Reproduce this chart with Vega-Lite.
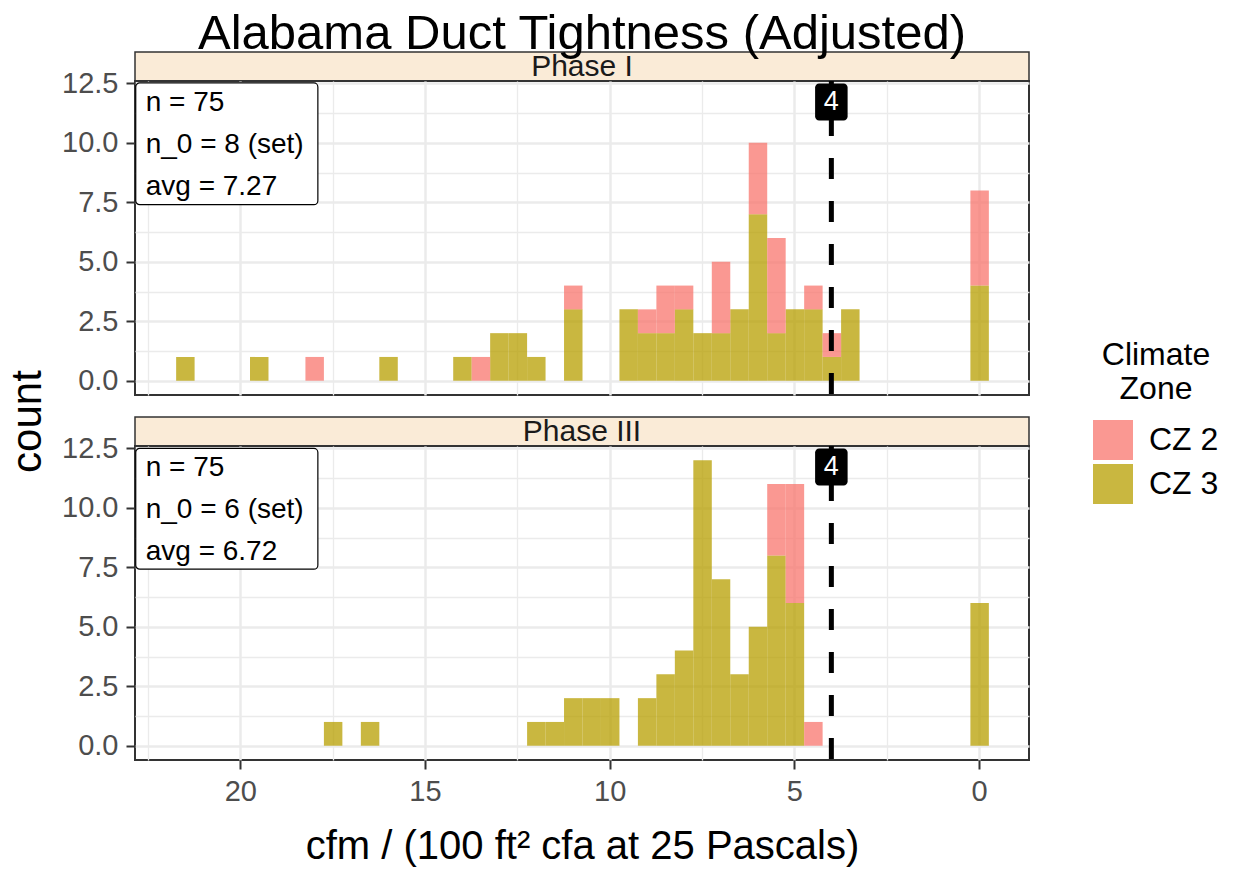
{
  "$schema": "https://vega.github.io/schema/vega-lite/v6.json",
  "padding": {"left": 5, "top": 8, "right": 5, "bottom": 5},
  "config": {
    "font": "Liberation Sans",
    "axis": {"labelFont": "Liberation Sans", "titleFont": "Liberation Sans", "gridColor": "#EBEBEB", "domain": false, "tickColor": "#333333", "tickWidth": 2, "tickSize": 9, "labelColor": "#4D4D4D", "labelFontSize": 29, "labelPadding": 8, "titleFontSize": 40, "titleFontWeight": "normal", "titleColor": "#000000"},
    "legend": {"labelFont": "Liberation Sans", "titleFont": "Liberation Sans", "labelFontSize": 32, "titleFontSize": 32, "titleFontWeight": "normal", "labelColor": "#000000", "titleColor": "#000000"},
    "title": {"font": "Liberation Sans", "fontWeight": "normal", "color": "#000000"}
  },
  "datasets": {
    "bins": [
      {"phase": "Phase I", "zone": "CZ 3", "bin_start": 21.25, "bin_end": 21.75, "count": 1},
      {"phase": "Phase I", "zone": "CZ 3", "bin_start": 19.25, "bin_end": 19.75, "count": 1},
      {"phase": "Phase I", "zone": "CZ 3", "bin_start": 15.75, "bin_end": 16.25, "count": 1},
      {"phase": "Phase I", "zone": "CZ 3", "bin_start": 13.75, "bin_end": 14.25, "count": 1},
      {"phase": "Phase I", "zone": "CZ 3", "bin_start": 12.75, "bin_end": 13.25, "count": 2},
      {"phase": "Phase I", "zone": "CZ 3", "bin_start": 12.25, "bin_end": 12.75, "count": 2},
      {"phase": "Phase I", "zone": "CZ 3", "bin_start": 11.75, "bin_end": 12.25, "count": 1},
      {"phase": "Phase I", "zone": "CZ 3", "bin_start": 10.75, "bin_end": 11.25, "count": 3},
      {"phase": "Phase I", "zone": "CZ 3", "bin_start": 9.25, "bin_end": 9.75, "count": 3},
      {"phase": "Phase I", "zone": "CZ 3", "bin_start": 8.75, "bin_end": 9.25, "count": 2},
      {"phase": "Phase I", "zone": "CZ 3", "bin_start": 8.25, "bin_end": 8.75, "count": 2},
      {"phase": "Phase I", "zone": "CZ 3", "bin_start": 7.75, "bin_end": 8.25, "count": 3},
      {"phase": "Phase I", "zone": "CZ 3", "bin_start": 7.25, "bin_end": 7.75, "count": 2},
      {"phase": "Phase I", "zone": "CZ 3", "bin_start": 6.75, "bin_end": 7.25, "count": 2},
      {"phase": "Phase I", "zone": "CZ 3", "bin_start": 6.25, "bin_end": 6.75, "count": 3},
      {"phase": "Phase I", "zone": "CZ 3", "bin_start": 5.75, "bin_end": 6.25, "count": 7},
      {"phase": "Phase I", "zone": "CZ 3", "bin_start": 5.25, "bin_end": 5.75, "count": 2},
      {"phase": "Phase I", "zone": "CZ 3", "bin_start": 4.75, "bin_end": 5.25, "count": 3},
      {"phase": "Phase I", "zone": "CZ 3", "bin_start": 4.25, "bin_end": 4.75, "count": 3},
      {"phase": "Phase I", "zone": "CZ 3", "bin_start": 3.75, "bin_end": 4.25, "count": 1},
      {"phase": "Phase I", "zone": "CZ 3", "bin_start": 3.25, "bin_end": 3.75, "count": 3},
      {"phase": "Phase I", "zone": "CZ 3", "bin_start": -0.25, "bin_end": 0.25, "count": 4},
      {"phase": "Phase I", "zone": "CZ 2", "bin_start": 17.75, "bin_end": 18.25, "count": 1},
      {"phase": "Phase I", "zone": "CZ 2", "bin_start": 13.25, "bin_end": 13.75, "count": 1},
      {"phase": "Phase I", "zone": "CZ 2", "bin_start": 10.75, "bin_end": 11.25, "count": 1},
      {"phase": "Phase I", "zone": "CZ 2", "bin_start": 8.75, "bin_end": 9.25, "count": 1},
      {"phase": "Phase I", "zone": "CZ 2", "bin_start": 8.25, "bin_end": 8.75, "count": 2},
      {"phase": "Phase I", "zone": "CZ 2", "bin_start": 7.75, "bin_end": 8.25, "count": 1},
      {"phase": "Phase I", "zone": "CZ 2", "bin_start": 6.75, "bin_end": 7.25, "count": 3},
      {"phase": "Phase I", "zone": "CZ 2", "bin_start": 5.75, "bin_end": 6.25, "count": 3},
      {"phase": "Phase I", "zone": "CZ 2", "bin_start": 5.25, "bin_end": 5.75, "count": 4},
      {"phase": "Phase I", "zone": "CZ 2", "bin_start": 4.25, "bin_end": 4.75, "count": 1},
      {"phase": "Phase I", "zone": "CZ 2", "bin_start": 3.75, "bin_end": 4.25, "count": 1},
      {"phase": "Phase I", "zone": "CZ 2", "bin_start": -0.25, "bin_end": 0.25, "count": 4},
      {"phase": "Phase III", "zone": "CZ 3", "bin_start": 17.25, "bin_end": 17.75, "count": 1},
      {"phase": "Phase III", "zone": "CZ 3", "bin_start": 16.25, "bin_end": 16.75, "count": 1},
      {"phase": "Phase III", "zone": "CZ 3", "bin_start": 11.75, "bin_end": 12.25, "count": 1},
      {"phase": "Phase III", "zone": "CZ 3", "bin_start": 11.25, "bin_end": 11.75, "count": 1},
      {"phase": "Phase III", "zone": "CZ 3", "bin_start": 10.75, "bin_end": 11.25, "count": 2},
      {"phase": "Phase III", "zone": "CZ 3", "bin_start": 10.25, "bin_end": 10.75, "count": 2},
      {"phase": "Phase III", "zone": "CZ 3", "bin_start": 9.75, "bin_end": 10.25, "count": 2},
      {"phase": "Phase III", "zone": "CZ 3", "bin_start": 8.75, "bin_end": 9.25, "count": 2},
      {"phase": "Phase III", "zone": "CZ 3", "bin_start": 8.25, "bin_end": 8.75, "count": 3},
      {"phase": "Phase III", "zone": "CZ 3", "bin_start": 7.75, "bin_end": 8.25, "count": 4},
      {"phase": "Phase III", "zone": "CZ 3", "bin_start": 7.25, "bin_end": 7.75, "count": 12},
      {"phase": "Phase III", "zone": "CZ 3", "bin_start": 6.75, "bin_end": 7.25, "count": 7},
      {"phase": "Phase III", "zone": "CZ 3", "bin_start": 6.25, "bin_end": 6.75, "count": 3},
      {"phase": "Phase III", "zone": "CZ 3", "bin_start": 5.75, "bin_end": 6.25, "count": 5},
      {"phase": "Phase III", "zone": "CZ 3", "bin_start": 5.25, "bin_end": 5.75, "count": 8},
      {"phase": "Phase III", "zone": "CZ 3", "bin_start": 4.75, "bin_end": 5.25, "count": 6},
      {"phase": "Phase III", "zone": "CZ 3", "bin_start": -0.25, "bin_end": 0.25, "count": 6},
      {"phase": "Phase III", "zone": "CZ 2", "bin_start": 5.25, "bin_end": 5.75, "count": 3},
      {"phase": "Phase III", "zone": "CZ 2", "bin_start": 4.75, "bin_end": 5.25, "count": 5},
      {"phase": "Phase III", "zone": "CZ 2", "bin_start": 4.25, "bin_end": 4.75, "count": 1}
    ]
  },
  "bounds": "flush",
  "spacing": 0,
  "resolve": {"scale": {"color": "shared"}},
  "vconcat": [
    {
      "width": 894, "height": 29,
      "title": {"text": "Alabama Duct Tightness (Adjusted)", "fontSize": 49, "anchor": "middle", "frame": "group", "baseline": "alphabetic", "offset": -46},
      "view": {"fill": "#FAEBD7", "stroke": "#333333", "strokeWidth": 1.5},
      "data": {"values": [{"phase": "Phase I"}]},
      "mark": {"type": "text", "fontSize": 30, "color": "#1A1A1A", "baseline": "middle"},
      "encoding": {"text": {"field": "phase"}}
    },
    {
      "width": 894, "height": 314,
      "view": {"stroke": "#333333", "strokeWidth": 2},
      "resolve": {"axis": {"x": "independent", "y": "independent"}},
      "layer": [
        {
          "data": {"name": "bins"},
          "transform": [{"filter": "datum.phase === 'Phase I'"}],
          "mark": {"type": "bar", "opacity": 0.75, "binSpacing": 0, "strokeWidth": 0},
          "encoding": {
            "x": {"field": "bin_start", "type": "quantitative", "bin": {"binned": true, "step": 0.5}, "scale": {"domain": [-1.35, 22.85], "reverse": true, "nice": false, "zero": false}, "axis": {"orient": "bottom", "values": [0, 5, 10, 15, 20], "labels": false, "ticks": false, "title": null, "grid": true, "gridWidth": 2.5}},
            "x2": {"field": "bin_end"},
            "y": {"field": "count", "type": "quantitative", "stack": "zero", "scale": {"domain": [-0.6, 12.6], "nice": false, "zero": false}, "axis": {"orient": "left", "values": [0, 2.5, 5, 7.5, 10, 12.5], "format": ".1f", "title": null, "grid": true, "gridWidth": 2.5}},
            "color": {"field": "zone", "type": "nominal", "scale": {"domain": ["CZ 2", "CZ 3"], "range": ["#F8766D", "#B79F00"]}, "legend": {"orient": "none", "legendX": 958, "legendY": 288, "title": ["Climate", "Zone"], "titleAlign": "center", "titleAnchor": "middle", "titlePadding": 14, "symbolType": "square", "symbolSize": 1600, "symbolOpacity": 0.75, "symbolStrokeWidth": 0, "rowPadding": 4, "labelOffset": 16}},
            "order": {"field": "zone", "sort": "descending"}
          }
        },
        {
          "data": {"values": [{"ref": 4}]},
          "mark": {"type": "rule", "color": "#000000", "strokeWidth": 5, "strokeDash": [21, 22], "strokeDashOffset": 9},
          "encoding": {"x": {"field": "ref", "type": "quantitative", "axis": {"orient": "top", "values": [2.5, 7.5, 12.5, 17.5, 22.5], "labels": false, "ticks": false, "domain": false, "title": null, "grid": true, "gridWidth": 1.3}}}
        },
        {
          "data": {"values": [{"ref": 4}]},
          "mark": {"type": "rect", "color": "#000000", "cornerRadius": 4},
          "encoding": {"x": {"datum": 4.44, "axis": null}, "x2": {"datum": 3.56}, "y": {"datum": 12.49, "axis": {"orient": "right", "values": [1.25, 3.75, 6.25, 8.75, 11.25], "labels": false, "ticks": false, "domain": false, "title": null, "grid": true, "gridWidth": 1.3}}, "y2": {"datum": 10.94}}
        },
        {
          "data": {"values": [{"ref": 4, "lab": "4"}]},
          "mark": {"type": "text", "color": "#FFFFFF", "fontSize": 27, "baseline": "middle"},
          "encoding": {"x": {"field": "ref", "type": "quantitative", "axis": null}, "y": {"datum": 11.71, "axis": null}, "text": {"field": "lab"}}
        },
        {
          "data": {"values": [{"phase": "Phase I"}]},
          "mark": {"type": "rect", "fill": "#FFFFFF", "stroke": "#000000", "strokeWidth": 1.2, "cornerRadius": 4},
          "encoding": {"x": {"datum": 22.83, "axis": null}, "x2": {"datum": 17.9}, "y": {"datum": 12.52, "axis": null}, "y2": {"datum": 7.4}}
        },
        {
          "data": {"values": [{"lines": ["n = 75", "n_0 = 8 (set)", "avg = 7.27"]}]},
          "mark": {"type": "text", "align": "left", "baseline": "alphabetic", "fontSize": 28, "lineHeight": 41.7, "color": "#000000"},
          "encoding": {"x": {"datum": 22.56, "axis": null}, "y": {"datum": 11.33, "axis": null}, "text": {"field": "lines"}}
        }
      ]
    },
    {
      "width": 894, "height": 22,
      "view": {"stroke": null},
      "data": {"values": [{}]},
      "mark": {"type": "text"},
      "encoding": {"text": {"value": ""}}
    },
    {
      "width": 894, "height": 29,
      "view": {"fill": "#FAEBD7", "stroke": "#333333", "strokeWidth": 1.5},
      "data": {"values": [{"phase": "Phase III"}]},
      "mark": {"type": "text", "fontSize": 30, "color": "#1A1A1A", "baseline": "middle"},
      "encoding": {"text": {"field": "phase"}}
    },
    {
      "width": 894, "height": 314,
      "view": {"stroke": "#333333", "strokeWidth": 2},
      "resolve": {"axis": {"x": "independent", "y": "independent"}},
      "layer": [
        {
          "data": {"name": "bins"},
          "transform": [{"filter": "datum.phase === 'Phase III'"}],
          "mark": {"type": "bar", "opacity": 0.75, "binSpacing": 0, "strokeWidth": 0},
          "encoding": {
            "x": {"field": "bin_start", "type": "quantitative", "bin": {"binned": true, "step": 0.5}, "scale": {"domain": [-1.35, 22.85], "reverse": true, "nice": false, "zero": false}, "axis": {"orient": "bottom", "values": [0, 5, 10, 15, 20], "format": "d", "title": "cfm / (100 ft² cfa at 25 Pascals)", "titlePadding": 20, "grid": true, "gridWidth": 2.5}},
            "x2": {"field": "bin_end"},
            "y": {"field": "count", "type": "quantitative", "stack": "zero", "scale": {"domain": [-0.6, 12.6], "nice": false, "zero": false}, "axis": {"orient": "left", "values": [0, 2.5, 5, 7.5, 10, 12.5], "format": ".1f", "title": "count", "titleFontSize": 42, "titleY": -25, "titlePadding": 12, "grid": true, "gridWidth": 2.5}},
            "color": {"field": "zone", "type": "nominal", "scale": {"domain": ["CZ 2", "CZ 3"], "range": ["#F8766D", "#B79F00"]}, "legend": {"orient": "none", "legendX": 958, "legendY": 288, "title": ["Climate", "Zone"], "titleAlign": "center", "titleAnchor": "middle", "titlePadding": 14, "symbolType": "square", "symbolSize": 1600, "symbolOpacity": 0.75, "symbolStrokeWidth": 0, "rowPadding": 4, "labelOffset": 16}},
            "order": {"field": "zone", "sort": "descending"}
          }
        },
        {
          "data": {"values": [{"ref": 4}]},
          "mark": {"type": "rule", "color": "#000000", "strokeWidth": 5, "strokeDash": [21, 22], "strokeDashOffset": 9},
          "encoding": {"x": {"field": "ref", "type": "quantitative", "axis": {"orient": "top", "values": [2.5, 7.5, 12.5, 17.5, 22.5], "labels": false, "ticks": false, "domain": false, "title": null, "grid": true, "gridWidth": 1.3}}}
        },
        {
          "data": {"values": [{"ref": 4}]},
          "mark": {"type": "rect", "color": "#000000", "cornerRadius": 4},
          "encoding": {"x": {"datum": 4.44, "axis": null}, "x2": {"datum": 3.56}, "y": {"datum": 12.49, "axis": {"orient": "right", "values": [1.25, 3.75, 6.25, 8.75, 11.25], "labels": false, "ticks": false, "domain": false, "title": null, "grid": true, "gridWidth": 1.3}}, "y2": {"datum": 10.94}}
        },
        {
          "data": {"values": [{"ref": 4, "lab": "4"}]},
          "mark": {"type": "text", "color": "#FFFFFF", "fontSize": 27, "baseline": "middle"},
          "encoding": {"x": {"field": "ref", "type": "quantitative", "axis": null}, "y": {"datum": 11.71, "axis": null}, "text": {"field": "lab"}}
        },
        {
          "data": {"values": [{"phase": "Phase III"}]},
          "mark": {"type": "rect", "fill": "#FFFFFF", "stroke": "#000000", "strokeWidth": 1.2, "cornerRadius": 4},
          "encoding": {"x": {"datum": 22.83, "axis": null}, "x2": {"datum": 17.9}, "y": {"datum": 12.5, "axis": null}, "y2": {"datum": 7.42}}
        },
        {
          "data": {"values": [{"lines": ["n = 75", "n_0 = 6 (set)", "avg = 6.72"]}]},
          "mark": {"type": "text", "align": "left", "baseline": "alphabetic", "fontSize": 28, "lineHeight": 41.7, "color": "#000000"},
          "encoding": {"x": {"datum": 22.56, "axis": null}, "y": {"datum": 11.33, "axis": null}, "text": {"field": "lines"}}
        }
      ]
    }
  ]
}
